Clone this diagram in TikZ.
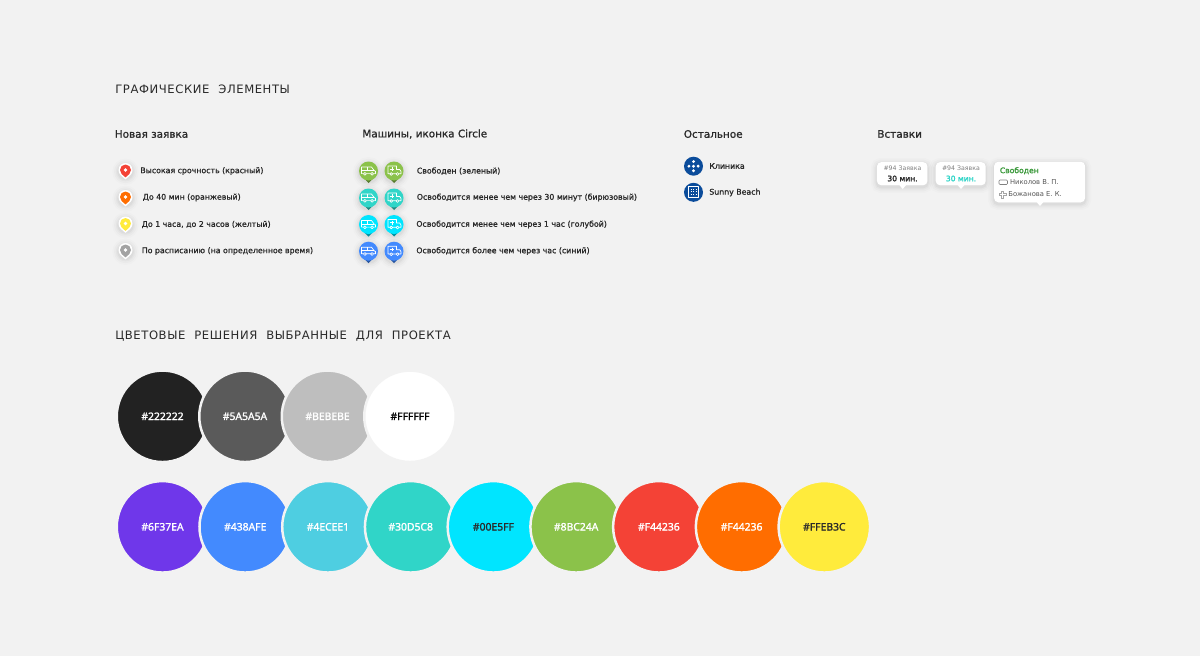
\documentclass[tikz,border=0pt]{standalone}
\usepackage{fontspec}
\usetikzlibrary{positioning}
\setmainfont{DejaVu Sans}
\newfontfamily\headfont[LetterSpace=5,WordSpace=2.1]{DejaVu Sans}
\newfontfamily\labelfont[FakeBold=1.2]{DejaVu Sans}
\newfontfamily\strongfont[FakeBold=2]{DejaVu Sans}
\newfontfamily\hexfont[FakeBold=1.6]{Noto Sans}
\definecolor{pagebg}{HTML}{F2F2F2}
\definecolor{inktext}{HTML}{2A2A2A}
\definecolor{clinicblue}{HTML}{0B4C9B}
\definecolor{freegreen}{HTML}{3C9A3C}
\definecolor{soonteal}{HTML}{30D5C8}
\definecolor{c222222}{HTML}{222222}
\definecolor{c5A5A5A}{HTML}{5A5A5A}
\definecolor{cBEBEBE}{HTML}{BEBEBE}
\definecolor{cFFFFFF}{HTML}{FFFFFF}
\definecolor{c6F37EA}{HTML}{6F37EA}
\definecolor{c438AFE}{HTML}{438AFE}
\definecolor{c4ECEE1}{HTML}{4ECEE1}
\definecolor{c30D5C8}{HTML}{30D5C8}
\definecolor{c00E5FF}{HTML}{00E5FF}
\definecolor{c8BC24A}{HTML}{8BC24A}
\definecolor{cF44236}{HTML}{F44236}
\definecolor{cFF6D00}{HTML}{FF6D00}
\definecolor{cFFEB3C}{HTML}{FFEB3C}
\definecolor{cA3A3A3}{HTML}{A3A3A3}
\tikzset{
  softshadow/.style={
    preaction={draw=black,draw opacity=.012,line width=7pt,transform canvas={yshift=-1pt}},
    preaction={draw=black,draw opacity=.018,line width=5pt,transform canvas={yshift=-1pt}},
    preaction={draw=black,draw opacity=.022,line width=3pt,transform canvas={yshift=-1pt}},
    preaction={draw=black,draw opacity=.03,line width=1.5pt,transform canvas={yshift=-1pt}}},
  sectionhead/.style={anchor=west, inner sep=0pt, text=inktext, font=\headfont\fontsize{6.6pt}{8pt}\selectfont},
  columnhead/.style={anchor=west, inner sep=0pt, text=inktext, font=\labelfont\fontsize{5.93pt}{7pt}\selectfont},
  rowlabel/.style={anchor=west, inner sep=0pt, text=inktext, font=\labelfont\fontsize{4.45pt}{5pt}\selectfont},
  swatch/.style={circle, draw=pagebg, line width=1.42pt, minimum size=1.83cm, inner sep=0pt, font=\hexfont\fontsize{5.9pt}{8pt}\selectfont},
  tipbox/.style={fill=white, rounded corners=2.4pt, inner sep=0pt, softshadow},
  tipsmall/.style={anchor=center, inner sep=0pt, text=gray, font=\fontsize{3.55pt}{4pt}\selectfont},
  tipbold/.style={anchor=center, inner sep=0pt, font=\strongfont\fontsize{4.35pt}{5pt}\selectfont},
  tipline/.style={anchor=west, inner sep=0pt, text=inktext!80, font=\fontsize{3.85pt}{5pt}\selectfont},
  glyph/.style={draw=white, line width=.38pt, line join=round}
}
% small map pin with white rim
\newcommand{\mappin}[3]{
  \begin{scope}[shift={(#1,#2)}]
    \fill[white, softshadow] (0,0) circle (7);
    \fill[white] (-4.6,5.3) -- (0,9.4) -- (4.6,5.3) -- cycle;
    \fill[#3] (-3.6,4.2) -- (0,7.4) -- (3.6,4.2) -- cycle;
    \fill[#3] (0,0) circle (5.5);
    \fill[white] (0,0) circle (1.9);
  \end{scope}
}
% pin with a car
\newcommand{\carpin}[3]{
  \begin{scope}[shift={(#1,#2)}]
    \fill[#3!70!black] (-6,6) -- (0,12) -- (6,6) -- cycle;
    \fill[#3, softshadow] (0,0) circle (9.5);
    \draw[glyph] (-7,2.6) -- (-7,-4) -- (3,-4) -- (5.5,-.6) -- (7,.4) -- (7,2.6) -- cycle;
    \draw[glyph] (-7,-.6) -- (5.5,-.6) (-1.6,-4) -- (-1.6,-.6);
    \draw[glyph, fill=#3] (-3.6,2.8) circle (1.4) (3.6,2.8) circle (1.4);
  \end{scope}
}
% pin with an ambulance
\newcommand{\vanpin}[3]{
  \begin{scope}[shift={(#1,#2)}]
    \fill[#3!70!black] (-6,6) -- (0,12) -- (6,6) -- cycle;
    \fill[#3, softshadow] (0,0) circle (9.5);
    \draw[glyph] (-6,2.8) -- (-6,-5) -- (2.5,-5) -- (2.5,-1.5) -- (5.8,-1.5) -- (7,.6) -- (7,2.8) -- cycle;
    \draw[glyph] (-1.8,-3.6) -- (-1.8,.2) (-3.7,-1.7) -- (.1,-1.7);
    \draw[glyph, fill=#3] (-2.8,3) circle (1.4) (3.6,3) circle (1.4);
  \end{scope}
}
\begin{document}
\begin{tikzpicture}[x=0.02cm, y=-0.02cm]
  \useasboundingbox (0,0) rectangle (1200,656);
  \fill[pagebg] (0,0) rectangle (1200,656);

  \node[sectionhead] (elementshead) at (115,89) {ГРАФИЧЕСКИЕ ЭЛЕМЕНТЫ};
  \node[sectionhead] (colourshead) at (115,336) {ЦВЕТОВЫЕ РЕШЕНИЯ ВЫБРАННЫЕ ДЛЯ ПРОЕКТА};

  \node[columnhead] (newhead) at (114.5,134) {Новая заявка};
  \node[columnhead] (carshead) at (362,134) {Машины, иконка Circle};
  \node[columnhead] (resthead) at (683.5,134) {Остальное};
  \node[columnhead] (insertshead) at (877,134) {Вставки};

  % new requests
  \mappin{125.5}{170}{cF44236}
  \mappin{125.5}{197}{cFF6D00}
  \mappin{125.5}{223.5}{cFFEB3C}
  \mappin{125.5}{250}{cA3A3A3}
  \node[rowlabel] (newa) at (140,171) {Высокая срочность (красный)};
  \node[rowlabel] (newb) at (142.5,197.5) {До 40 мин (оранжевый)};
  \node[rowlabel] (newc) at (141.5,224.5) {До 1 часа, до 2 часов (желтый)};
  \node[rowlabel] (newd) at (141.5,251) {По расписанию (на определенное время)};

  % cars
  \foreach \rowy/\pincol in {171/c8BC24A, 198/c30D5C8, 224.5/c00E5FF, 251.2/c438AFE}{
    \carpin{368.5}{\rowy}{\pincol}
    \vanpin{394}{\rowy}{\pincol}
  }
  \node[rowlabel] (cara) at (416.5,171) {Свободен (зеленый)};
  \node[rowlabel] (carb) at (416.5,197.5) {Освободится менее чем через 30 минут (бирюзовый)};
  \node[rowlabel] (carc) at (416,224.5) {Освободится менее чем через 1 час (голубой)};
  \node[rowlabel] (card) at (416,251) {Освободится более чем через час (синий)};

  % other
  \fill[clinicblue] (693.5,166.2) circle (9.5);
  \foreach \dx/\dy in {0/0, -4.6/0, 4.6/0, 0/-4.6, 0/4.6}
    \fill[white] (693.5+\dx,166.2+\dy) circle (1.6);
  \fill[clinicblue] (693.5,192.3) circle (9.5);
  \draw[glyph] (688.8,197.5) rectangle (698.2,186.8);
  \foreach \dy in {189.3,191.8,194.3}
    \draw[glyph, dash pattern=on .8pt off .6pt] (690.6,\dy) -- (696.8,\dy);
  \node[rowlabel] (clinic) at (709,166) {Клиника};
  \node[rowlabel] (beach) at (709,192.5) {Sunny Beach};

  % inserts
  \node[tipbox, minimum width=1.01cm, minimum height=.46cm] (boxa) at (902.2,173.7) {};
  \node[tipbox, minimum width=1cm, minimum height=.46cm] (boxb) at (960.7,173.7) {};
  \node[tipbox, minimum width=1.82cm, minimum height=.81cm] (boxc) at (1039.6,182) {};
  \fill[white] (898.5,184) -- (902.7,189) -- (907,184) -- cycle;
  \fill[white] (956.8,184) -- (961,189) -- (965.3,184) -- cycle;
  \fill[white] (1035.8,201) -- (1040,206) -- (1044.3,201) -- cycle;
  \node[tipsmall] (boxatop) at (902.5,168.7) {\#94 Заявка};
  \node[tipbold, text=inktext] (boxabot) at (902.5,178.5) {30 мин.};
  \node[tipsmall] (boxbtop) at (961,168.7) {\#94 Заявка};
  \node[tipbold, text=soonteal] (boxbbot) at (961,178.5) {30 мин.};
  \node[tipbold, anchor=west, text=freegreen] (boxcfree) at (999.5,170.7) {Свободен};
  \draw[gray, line width=.3pt, rounded corners=.6] (999,180) rectangle (1007.5,184.5);
  \node[tipline] (boxcdriver) at (1009.7,182.5) {Николов В. П.};
  \draw[gray!70, line width=.3pt] (1001.3,191) -- (1003.7,191) -- (1003.7,193.3) -- (1006,193.3) -- (1006,195.7) -- (1003.7,195.7) -- (1003.7,198) -- (1001.3,198) -- (1001.3,195.7) -- (999,195.7) -- (999,193.3) -- (1001.3,193.3) -- cycle;
  \node[tipline] (boxcnurse) at (1008,194.5) {Божанова Е. К.};

  % greys
  \foreach \i/\swcol/\txtcol/\hex in {0/c222222/white/222222, 1/c5A5A5A/white/5A5A5A, 2/cBEBEBE/white/BEBEBE, 3/cFFFFFF/black/FFFFFF}
    \node[swatch, fill=\swcol, text=\txtcol] (grey\i) at ({162.5+82.5*\i},416.3) {\#\hex};
  % palette
  \foreach \i/\swcol/\txtcol/\hex in {0/c6F37EA/white/6F37EA, 1/c438AFE/white/438AFE, 2/c4ECEE1/white/4ECEE1, 3/c30D5C8/white/30D5C8, 4/c00E5FF/inktext/00E5FF, 5/c8BC24A/white/8BC24A, 6/cF44236/white/F44236, 7/cFF6D00/white/F44236, 8/cFFEB3C/inktext/FFEB3C}
    \node[swatch, fill=\swcol, text=\txtcol] (tone\i) at ({162.5+82.73*\i},526.8) {\#\hex};
\end{tikzpicture}
\end{document}
